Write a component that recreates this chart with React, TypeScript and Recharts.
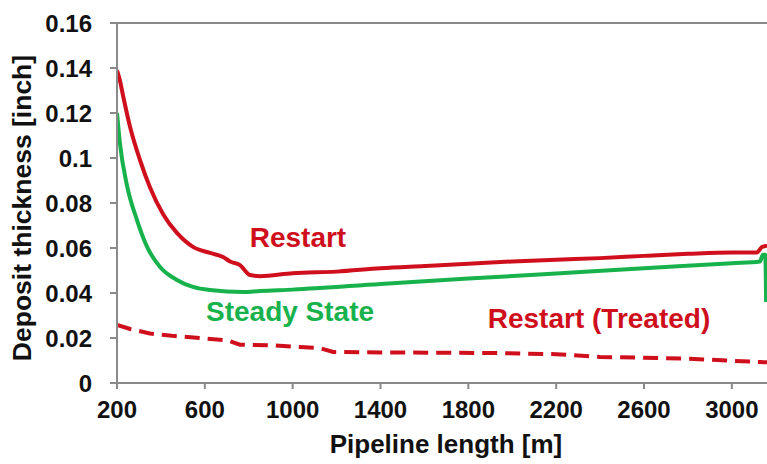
import React from 'react';
import { LineChart, Line, XAxis, YAxis, ReferenceLine, ReferenceDot } from 'recharts';

// Pipeline length [m] / deposit thickness [inch]
const restartLength = [200, 212, 227, 259, 305, 350, 410, 473, 546, 623, 683, 715, 760, 806, 851, 1000, 1200, 1400, 1600, 1800, 2000, 2200, 2400, 2600, 2800, 3000, 3114, 3137, 3160];
const restartThickness = [0.139, 0.135, 0.128, 0.114, 0.099, 0.087, 0.075, 0.0667, 0.0605, 0.0578, 0.056, 0.054, 0.0524, 0.048, 0.0475, 0.0488, 0.0495, 0.051, 0.052, 0.053, 0.054, 0.0548, 0.0555, 0.0565, 0.0574, 0.058, 0.058, 0.0604, 0.061];

const steadyLength = [200, 214, 245, 291, 337, 396, 473, 546, 623, 774, 851, 1000, 1400, 1800, 2200, 2600, 3000, 3128, 3141, 3152, 3156];
const steadyThickness = [0.12, 0.106, 0.088, 0.0724, 0.0605, 0.0516, 0.0458, 0.0427, 0.0413, 0.0404, 0.0409, 0.0415, 0.044, 0.0464, 0.0487, 0.051, 0.0532, 0.054, 0.057, 0.057, 0.036];

const treatedLength = [200, 260, 350, 450, 578, 700, 760, 900, 1033, 1124, 1184, 1400, 1944, 2200, 2400, 2800, 3128, 3160];
const treatedThickness = [0.0258, 0.024, 0.022, 0.021, 0.02, 0.019, 0.017, 0.0168, 0.016, 0.0155, 0.0138, 0.0136, 0.0133, 0.0128, 0.0116, 0.0108, 0.0093, 0.0092];

const xTicks = [200, 600, 1000, 1400, 1800, 2200, 2600, 3000];
const yTicks = [0, 0.02, 0.04, 0.06, 0.08, 0.1, 0.12, 0.14, 0.16];

const RED = '#cf0f1c';
const GREEN = '#17b24c';
const AXIS = '#8a8a8a';
const FONT = 'Arial, "Liberation Sans", sans-serif';

const zip = (xs: number[], ys: number[]) => xs.map((x, i) => ({ x, y: ys[i] }));

const restartData = zip(restartLength, restartThickness);
const steadyData = zip(steadyLength, steadyThickness);
const treatedData = zip(treatedLength, treatedThickness);

const tickStyle = { fill: '#111', fontSize: 24, fontWeight: 700, fontFamily: FONT };

const curveLabel = (text: string, color: string) => ({
  value: text,
  position: 'center' as const,
  fill: color,
  fontSize: 28,
  fontWeight: 700,
  fontFamily: FONT,
});

const App: React.FC = () => {
  return (
    <div style={{ position: 'absolute', left: 0, top: 0, width: 767, height: 464, background: '#fff' }}>
      <LineChart width={767} height={464} margin={{ top: 23, right: 0, left: 0, bottom: 0 }}>
        <XAxis
          type="number"
          dataKey="x"
          domain={[200, 3160]}
          ticks={xTicks}
          allowDataOverflow
          height={81}
          stroke={AXIS}
          strokeWidth={2}
          tickSize={6}
          tickMargin={12}
          tick={tickStyle}
          label={{
            content: () => (
              <text x={446} y={453} textAnchor="middle" fill="#111" fontSize={26} fontWeight={700} fontFamily={FONT}>
                Pipeline length [m]
              </text>
            ),
          }}
        />
        <YAxis
          type="number"
          domain={[0, 0.16]}
          ticks={yTicks}
          width={117}
          stroke={AXIS}
          strokeWidth={2}
          tickSize={7}
          tickMargin={18}
          tick={tickStyle}
          label={{
            content: () => (
              <text
                x={22}
                y={208}
                transform="rotate(-90 22 208)"
                textAnchor="middle"
                dominantBaseline="central"
                fill="#111"
                fontSize={26.5}
                fontWeight={700}
                fontFamily={FONT}
              >
                Deposit thickness [inch]
              </text>
            ),
          }}
        />
        <ReferenceLine y={0.16} stroke={AXIS} strokeWidth={2} />

        <Line data={steadyData} dataKey="y" type="monotone" stroke={GREEN} strokeWidth={4} dot={false} isAnimationActive={false} />
        <Line data={restartData} dataKey="y" type="monotone" stroke={RED} strokeWidth={4} dot={false} isAnimationActive={false} />
        <Line
          data={treatedData}
          dataKey="y"
          type="linear"
          stroke={RED}
          strokeWidth={4}
          strokeDasharray="15 8"
          dot={false}
          isAnimationActive={false}
        />

        <ReferenceDot x={1024} y={0.0649} r={0} stroke="none" fill="none" label={curveLabel('Restart', RED)} />
        <ReferenceDot x={988} y={0.0318} r={0} stroke="none" fill="none" label={curveLabel('Steady State', GREEN)} />
        <ReferenceDot x={2395} y={0.0287} r={0} stroke="none" fill="none" label={curveLabel('Restart (Treated)', RED)} />
      </LineChart>
    </div>
  );
};

export default App;
